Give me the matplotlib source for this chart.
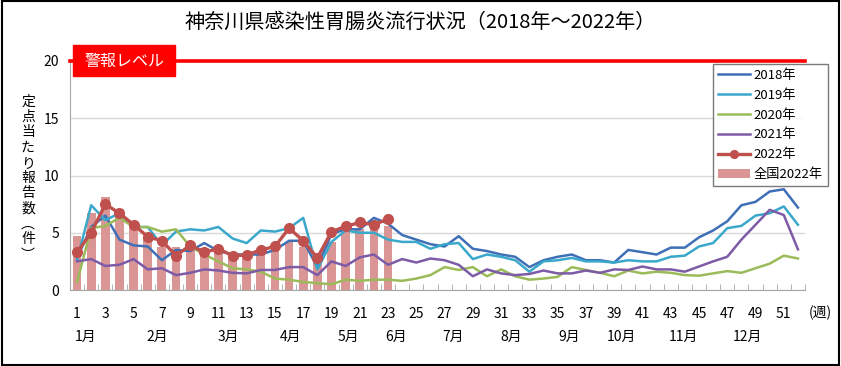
import numpy as np
from matplotlib import pyplot as plt
from matplotlib.patches import Rectangle

plt.rcParams['font.family'] = ['Noto Sans CJK JP', 'DejaVu Sans']

# weekly values (reports per sentinel site)
weeks = np.arange(1, 53)
y2018 = [2.8, 5.5, 6.5, 4.4, 3.9, 3.8, 2.6, 3.5, 3.4, 4.1, 3.4, 3.1, 3.1, 3.1, 3.5, 4.3, 4.3, 2.0,
         4.9, 5.3, 5.3, 6.3, 5.8, 4.8, 4.4, 4.0, 3.8, 4.7, 3.6, 3.4, 3.1, 2.9, 2.0, 2.6, 2.9, 3.1,
         2.6, 2.6, 2.4, 3.5, 3.3, 3.1, 3.7, 3.7, 4.6, 5.2, 6.0, 7.4, 7.7, 8.6, 8.8, 7.2]
y2019 = [2.6, 7.4, 6.1, 6.7, 5.5, 5.5, 3.9, 5.1, 5.3, 5.2, 5.5, 4.5, 4.1, 5.2, 5.1, 5.4, 6.3, 1.8,
         4.2, 5.2, 5.0, 5.0, 4.4, 4.2, 4.2, 3.6, 4.0, 4.1, 2.7, 3.1, 2.9, 2.6, 1.6, 2.5, 2.6, 2.8,
         2.5, 2.5, 2.4, 2.6, 2.5, 2.5, 2.9, 3.0, 3.8, 4.1, 5.4, 5.6, 6.5, 6.7, 7.3, 5.7]
y2020 = [0.7, 5.4, 5.6, 6.3, 5.5, 5.5, 5.1, 5.3, 3.8, 3.1, 2.5, 1.9, 1.8, 1.6, 1.0, 0.9, 0.7, 0.6,
         0.5, 0.9, 0.8, 0.9, 0.9, 0.8, 1.0, 1.3, 2.0, 1.75, 2.0, 1.2, 1.8, 1.2, 0.9, 1.0, 1.15, 2.0,
         1.75, 1.5, 1.2, 1.7, 1.45, 1.6, 1.5, 1.3, 1.25, 1.45, 1.65, 1.5, 1.9, 2.3, 3.0, 2.75]
y2021 = [2.5, 2.7, 2.1, 2.2, 2.7, 1.8, 1.9, 1.3, 1.5, 1.8, 1.7, 1.5, 1.45, 1.75, 1.75, 2.0, 2.0, 1.3,
         2.5, 2.1, 2.85, 3.1, 2.2, 2.7, 2.4, 2.75, 2.6, 2.2, 1.2, 1.8, 1.45, 1.3, 1.4, 1.7, 1.45, 1.45,
         1.7, 1.5, 1.8, 1.75, 2.05, 1.8, 1.8, 1.6, 2.05, 2.5, 2.9, 4.4, 5.7, 7.0, 6.55, 3.55]
y2022 = [3.3, 5.0, 7.5, 6.7, 5.7, 4.65, 4.3, 3.0, 3.9, 3.3, 3.6, 3.0, 3.05, 3.5, 3.8, 5.4, 4.3, 2.8,
         5.1, 5.55, 5.9, 5.7, 6.2]
national2022 = [4.7, 6.7, 8.1, 7.05, 5.8, 4.7, 3.75, 3.75, 3.5, 3.65, 3.5, 2.85, 2.85, 3.1, 3.5, 4.15,
                3.75, 2.5, 4.2, 5.1, 5.3, 5.3, 5.55]
warning_level = 20
months = ['1月', '2月', '3月', '4月', '5月', '6月', '7月', '8月', '9月', '10月', '11月', '12月']

fig = plt.figure(figsize=(8.41, 3.66), dpi=100)
ax = fig.add_axes([70 / 841, 1 - 290 / 366, 735 / 841, 229 / 366])

w22 = weeks[:len(y2022)]
ax.bar(w22, national2022, width=0.62, color='#D99694', zorder=2, label='全国2022年')
ax.plot(weeks, y2018, color='#3F6FB6', lw=1.8, zorder=3, label='2018年')
ax.plot(weeks, y2019, color='#3AA8CB', lw=1.8, zorder=3, label='2019年')
ax.plot(weeks, y2020, color='#9BBB59', lw=1.8, zorder=3, label='2020年')
ax.plot(weeks, y2021, color='#7E5BA6', lw=1.8, zorder=3, label='2021年')
ax.plot(w22, y2022, color='#C0504D', lw=2.4, marker='o', ms=7, zorder=4, label='2022年')

ax.axhline(warning_level, color='#FF0000', lw=2.6, zorder=5, clip_on=False)
ax.add_patch(Rectangle((0.004, 0.935), 0.139, 0.135, transform=ax.transAxes, color='#FF0000',
                       clip_on=False, zorder=6))
ax.text(0.0735, 1.0, '警報レベル', transform=ax.transAxes, color='white', fontsize=11.5,
        ha='center', va='center', zorder=7)

ax.set_xlim(0.5, 52.5)
ax.set_ylim(0, 20)
ax.set_yticks([0, 5, 10, 15, 20])
ax.tick_params(axis='y', length=0, labelsize=10, pad=8)
ax.grid(axis='y', color='#D9D9D9', lw=1, zorder=0)
ax.set_xticks(np.arange(1, 52, 2))
ax.set_xticks(np.arange(0.5, 53, 1), minor=True)
ax.tick_params(axis='x', which='major', length=0, labelsize=10, pad=12)
ax.tick_params(axis='x', which='minor', length=4, direction='in', color='#A6A6A6')
for s in ['top', 'right']:
    ax.spines[s].set_visible(False)
ax.spines['left'].set_color('#A6A6A6')
ax.spines['bottom'].set_color('#A6A6A6')

ax.text(53.6, -2.0, '(週)', fontsize=10, ha='center', va='center')
month_pos = [1.6, 6.7, 11.7, 16.1, 20.2, 23.6, 27.6, 31.7, 35.8, 39.5, 43.9, 48.4]
for m, p in zip(months, month_pos):
    ax.text(p, -4.1, m, fontsize=10, ha='center', va='center')

fig.text(420 / 841, 1 - 22 / 366, '神奈川県感染性胃腸炎流行状況（2018年～2022年）', fontsize=14.5,
         ha='center', va='center')
fig.text(28 / 841, 1 - 178 / 366, '\n'.join('定点当たり報告数︵件︶'), fontsize=10,
         ha='center', va='center', linespacing=1.12)

leg = fig.legend(loc='upper left', bbox_to_anchor=(706 / 841, 1 - 57 / 366), fontsize=9.5,
                 frameon=True, fancybox=False, edgecolor='#595959', handlelength=2.4,
                 labelspacing=0.52, borderpad=0.4, handletextpad=0.3, markerscale=0.8)
leg.get_frame().set_linewidth(1.0)

fig.patches.append(Rectangle((0.002, 0.003), 0.996, 0.994, transform=fig.transFigure,
                             fill=False, edgecolor='black', lw=1.5))

fig.savefig('out.png', dpi=100)
